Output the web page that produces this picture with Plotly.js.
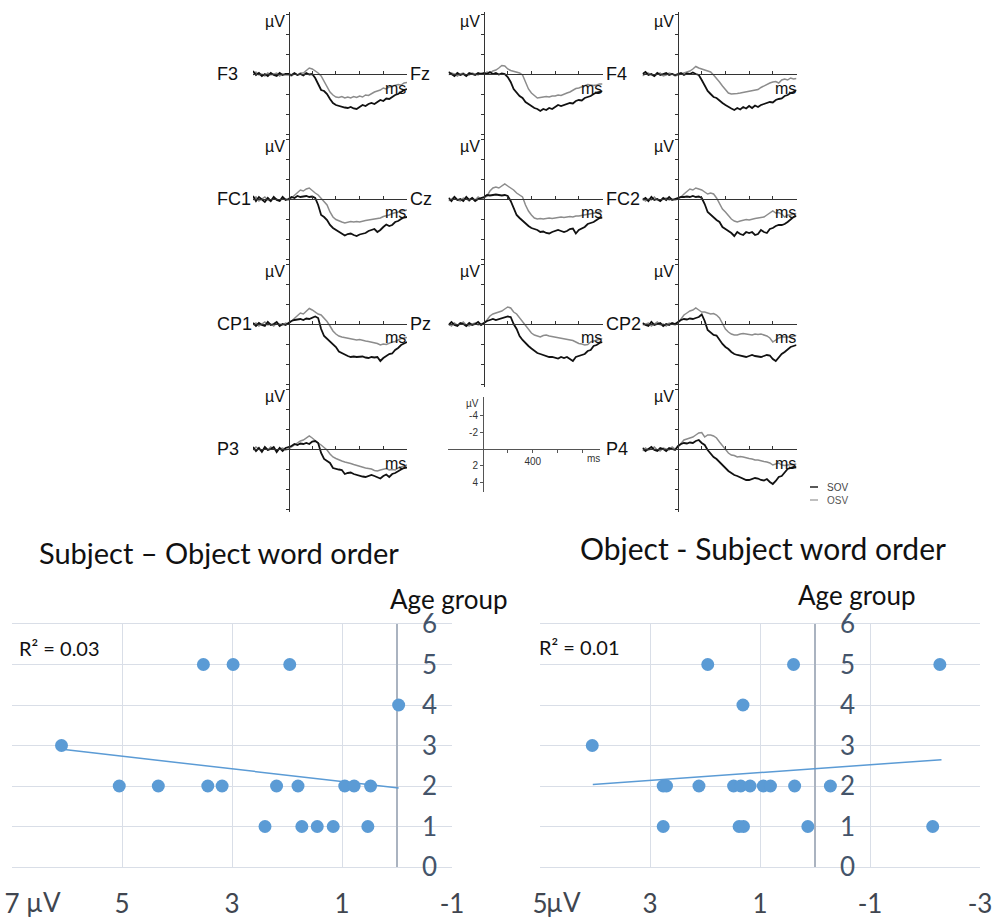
<!DOCTYPE html>
<html>
<head>
<meta charset="utf-8">
<script src="https://cdn.plot.ly/plotly-3.0.1.min.js"></script>
<style>html,body{margin:0;padding:0;background:#fff;}#chart{width:992px;height:919px;}</style>
</head>
<body>
<div id="chart"></div>
<script>
// ---------- ERP data (µV, positive plotted downward) ----------
const times = [-300,-275,-250,-225,-200,-175,-150,-125,-100,-75,-50,-25,0,25,50,75,100,125,150,175,200,225,250,275,300,325,350,375,400,425,450,475,500,525,550,575,600,625,650,675,700,725,750,775,800,825,850,875,900,925,950,975,1000];

const electrodes = ['F3','Fz','F4','FC1','Cz','FC2','CP1','Pz','CP2','P3','P4'];

const f3_sov = [-0.3,0.1,-0.1,0.2,0.0,0.2,-0.1,0.1,0.2,-0.1,0.1,0.0, 0.0,0.1,-0.1,0.1,0.0,0.15,-0.1,0.05,0.0, 0.4,1.0,1.6,1.7,2.0,2.5,2.9,3.1,3.2,3.25,3.35,3.4,3.3,3.45,3.5,3.3,3.1,3.2,3.0,2.9,3.0,2.8,2.6,2.7,2.45,2.5,2.3,2.1,2.0,1.8,1.6,1.5];
const f3_osv = [0.1,-0.2,0.1,0.0,0.2,-0.1,0.1,0.0,-0.1,0.2,0.0,0.1, 0.1,0.2,0.0,0.1,-0.1,-0.1,-0.4,-0.6,-0.5, -0.3,-0.1,0.2,0.7,1.2,1.8,2.1,2.3,2.35,2.25,2.4,2.3,2.4,2.25,2.35,2.2,2.3,2.1,2.15,1.95,1.8,1.7,1.6,1.4,1.5,1.3,1.2,1.1,1.05,1.1,0.9,0.85];
const fz_sov = [-0.2,0.0,0.2,-0.1,0.1,0.0,0.2,-0.1,0.0,0.1,-0.1,0.0, -0.1,0.0,-0.2,0.0,-0.1,0.05,-0.05,0.0,0.3, 0.8,1.5,1.9,2.2,2.4,2.8,3.0,3.2,3.4,3.5,3.7,3.5,3.6,3.4,3.5,3.3,3.1,3.2,3.1,3.0,2.9,2.95,2.7,2.6,2.65,2.4,2.3,2.2,2.0,1.85,1.8,1.7];
const fz_osv = [0.1,-0.1,0.0,0.2,0.0,-0.1,0.1,0.1,-0.1,0.0,0.1,-0.1, 0.0,-0.2,-0.1,-0.3,-0.4,-0.6,-0.85,-0.8,-0.5, -0.35,-0.25,-0.2,-0.1,0.1,0.9,1.5,1.9,2.2,2.4,2.35,2.3,2.25,2.3,2.2,2.2,2.1,2.15,2.0,1.9,1.8,1.6,1.45,1.4,1.3,1.2,1.05,1.1,1.15,1.1,1.0,1.0];
const f4_sov = [0.0,-0.2,0.1,0.0,0.2,-0.1,0.1,0.0,-0.1,0.1,0.0,0.1, 0.0,-0.1,0.1,-0.05,0.0,-0.15,0.0,0.1,0.6, 1.1,1.7,2.0,2.3,2.4,2.7,2.9,3.1,3.3,3.45,3.6,3.4,3.55,3.3,3.45,3.2,3.4,3.15,3.3,3.1,3.0,2.9,2.8,2.85,2.6,2.5,2.45,2.2,2.1,1.9,1.8,1.6];
const f4_osv = [0.2,0.0,-0.1,0.1,0.2,0.0,-0.1,0.2,0.1,-0.1,0.0,0.2, 0.1,0.0,-0.1,-0.2,-0.3,-0.5,-0.75,-0.6,-0.5, -0.4,-0.35,-0.2,0.1,0.4,0.8,1.2,1.5,1.9,2.0,2.0,1.95,1.9,1.85,1.8,1.75,1.7,1.6,1.55,1.35,1.2,1.0,0.9,0.8,0.75,0.9,0.6,0.5,0.6,0.4,0.5,0.45];
const fc1_sov = [-0.3,0.2,-0.2,0.1,0.3,-0.1,0.2,-0.2,0.1,0.2,-0.2,0.1, 0.0,-0.2,-0.1,-0.3,-0.2,-0.25,-0.3,-0.2,-0.25, -0.1,0.6,1.6,1.8,2.1,2.6,2.9,3.1,3.3,3.5,3.65,3.5,3.45,3.6,3.7,3.55,3.5,3.4,3.2,3.1,3.0,3.3,3.1,2.8,2.55,2.7,2.6,2.3,2.2,2.0,1.85,1.8];
const fc1_osv = [0.1,-0.2,0.2,0.0,-0.2,0.1,0.2,-0.1,0.0,0.2,-0.1,0.0, 0.1,-0.1,-0.4,-0.7,-0.9,-0.8,-1.0,-1.1,-0.8, -0.6,-0.4,-0.05,0.3,0.6,1.3,1.8,2.05,2.2,2.3,2.4,2.3,2.25,2.3,2.25,2.3,2.2,2.15,2.1,2.05,2.0,1.95,1.9,1.75,1.7,1.6,1.45,1.4,1.3,1.2,1.15,1.1];
const cz_sov = [-0.1,0.2,-0.2,0.1,0.0,0.2,-0.2,0.1,-0.1,0.2,0.0,-0.1, -0.2,-0.4,-0.35,-0.4,-0.45,-0.4,-0.35,-0.4,-0.3, 0.2,0.9,1.6,1.9,2.2,2.4,2.7,2.9,3.0,3.1,3.3,3.25,3.4,3.45,3.3,3.2,3.1,3.2,3.3,3.2,3.0,2.95,3.45,3.1,2.95,2.8,2.5,2.4,2.3,2.1,1.9,1.85];
const cz_osv = [0.2,0.0,-0.2,0.1,0.2,-0.1,0.0,0.2,-0.1,0.1,-0.2,0.0, -0.1,-0.3,-0.8,-1.1,-1.2,-1.1,-1.3,-1.5,-1.3, -1.1,-0.9,-0.6,-0.4,-0.2,0.6,1.2,1.6,1.9,2.0,1.95,2.0,1.95,1.9,1.95,1.9,1.85,1.8,1.85,1.8,1.75,1.8,1.7,1.7,1.65,1.6,1.55,1.5,1.45,1.4,1.3,1.25];
const fc2_sov = [0.1,-0.1,0.2,-0.2,0.1,0.0,0.2,-0.1,0.1,-0.2,0.1,0.0, -0.1,-0.2,-0.2,-0.25,-0.2,-0.3,-0.2,-0.25,-0.1, 0.5,1.3,1.6,1.8,2.1,2.3,2.8,3.0,3.2,3.4,3.7,3.3,3.5,3.6,3.3,3.4,3.3,3.6,3.5,3.1,3.3,3.4,3.0,2.9,2.7,2.6,2.6,2.5,2.3,2.0,1.8,1.7];
const fc2_osv = [-0.1,0.2,0.0,0.1,-0.2,0.1,0.2,0.0,-0.1,0.1,0.0,0.1, 0.0,-0.2,-0.5,-0.8,-1.0,-0.9,-1.1,-1.0,-0.9, -0.7,-0.5,-0.6,-0.5,-0.1,0.4,1.0,1.3,1.7,2.0,2.2,2.3,2.2,2.1,2.05,2.1,2.0,1.95,1.9,1.85,1.8,1.6,1.4,1.2,1.4,1.35,1.5,1.8,1.6,1.6,1.5,1.45];
const cp1_sov = [-0.1,0.2,-0.1,0.1,0.2,-0.2,0.1,0.0,-0.2,0.2,0.0,0.1, -0.1,-0.3,-0.4,-0.45,-0.5,-0.4,-0.55,-0.5,-0.6, -0.75,-0.6,0.5,1.2,1.5,1.7,2.0,2.3,2.75,2.9,3.1,3.2,3.3,3.25,3.3,3.3,3.25,3.35,3.4,3.3,3.35,3.3,3.7,3.4,3.2,3.0,2.95,2.6,2.4,2.1,1.95,1.8];
const cp1_osv = [0.1,-0.1,0.2,0.0,-0.2,0.1,0.0,0.2,-0.1,0.0,0.1,-0.1, 0.0,-0.3,-0.6,-0.9,-1.1,-1.0,-1.3,-1.55,-1.4, -1.2,-1.0,-0.9,-0.6,-0.25,0.2,0.7,1.0,1.2,1.3,1.35,1.4,1.45,1.5,1.6,1.55,1.65,1.7,1.75,1.8,1.85,1.95,2.1,2.0,2.05,1.9,1.8,1.75,1.6,1.45,1.4,1.35];
const pz_sov = [0.1,-0.2,0.1,0.2,-0.1,0.0,0.2,-0.1,0.1,0.0,-0.2,0.1, -0.1,-0.3,-0.4,-0.5,-0.4,-0.5,-0.55,-0.7,-0.75, -0.7,0.0,0.5,1.2,1.6,1.95,2.2,2.45,2.7,2.9,3.0,3.1,3.2,3.3,3.3,3.4,3.45,3.3,3.4,3.3,3.5,3.7,3.3,3.2,3.1,3.0,2.7,2.6,2.2,2.1,1.9,1.8];
const pz_osv = [0.0,0.2,-0.1,0.1,0.0,-0.2,0.1,0.2,0.0,-0.1,0.1,0.0, -0.1,-0.4,-0.8,-1.0,-1.1,-1.2,-1.3,-1.5,-1.7, -1.6,-1.2,-1.0,-0.6,-0.3,0.2,0.5,0.9,1.1,1.2,1.3,1.15,1.1,1.2,1.25,1.3,1.35,1.4,1.45,1.55,1.6,1.65,1.8,1.95,2.0,2.1,2.05,1.8,1.7,1.6,1.5,1.45];
const cp2_sov = [-0.1,0.1,0.2,-0.2,0.1,0.0,-0.1,0.2,0.0,0.1,-0.1,0.0, -0.2,-0.4,-0.5,-0.45,-0.55,-0.5,-0.6,-0.7,-0.95, -0.3,0.6,0.9,1.1,1.15,1.6,2.0,2.3,2.5,2.8,3.0,3.1,3.15,3.2,3.3,3.2,3.1,3.2,3.25,3.3,3.2,3.1,3.15,3.5,3.7,3.3,3.0,2.8,2.5,2.3,2.2,2.1];
const cp2_osv = [0.1,0.0,-0.1,0.2,0.0,-0.2,0.1,0.0,0.2,-0.1,0.0,0.1, -0.1,-0.5,-0.9,-1.1,-1.3,-1.4,-1.6,-1.4,-1.2, -1.2,-1.1,-1.0,-1.05,-0.9,-0.6,-0.1,0.5,0.8,1.0,1.1,1.1,1.0,0.95,1.0,1.05,1.1,1.0,1.05,1.0,1.1,1.2,1.4,1.8,1.6,1.4,1.3,1.3,1.25,1.3,1.2,1.15];
const p3_sov = [-0.2,0.2,-0.1,0.3,-0.2,0.1,0.0,-0.2,0.3,-0.1,0.2,-0.1, -0.2,-0.3,-0.5,-0.4,-0.55,-0.5,-0.6,-0.5,-0.75, -0.8,-0.6,0.4,1.0,1.2,1.4,1.9,2.0,2.05,2.1,2.5,2.4,2.35,2.5,2.6,2.7,2.75,2.8,2.7,2.6,2.7,2.85,2.95,2.7,2.55,2.8,2.5,2.4,2.2,2.05,1.9,1.85];
const p3_osv = [0.1,-0.2,0.0,0.2,-0.1,0.1,-0.2,0.0,0.1,0.0,-0.1,0.1, 0.0,-0.2,-0.4,-0.6,-0.8,-0.9,-1.1,-1.3,-1.1, -0.8,-0.6,-0.4,-0.15,0.1,0.5,0.8,0.95,1.1,1.2,1.3,1.35,1.45,1.55,1.65,1.75,1.8,1.9,1.95,2.0,2.15,2.2,2.1,2.0,1.95,2.1,2.05,2.1,1.9,1.8,1.7,1.6];
const p4_sov = [-0.1,0.2,0.0,-0.2,0.1,0.2,-0.1,0.0,0.2,-0.1,0.0,0.1, -0.3,-0.5,-0.6,-0.55,-0.65,-0.6,-0.8,-0.9,-0.6, -0.4,0.1,0.5,0.8,1.0,1.3,1.7,2.0,2.2,2.4,2.6,2.7,2.85,2.95,3.1,3.1,3.0,2.9,2.95,3.1,3.15,3.0,3.3,3.5,3.2,2.8,2.7,2.3,2.0,1.9,1.8,1.85];
const p4_osv = [0.2,-0.1,0.1,0.0,-0.2,0.1,0.2,-0.1,0.0,0.1,-0.2,0.0, -0.2,-0.6,-0.9,-1.0,-1.1,-1.2,-1.4,-1.6,-1.65, -1.2,-1.4,-1.4,-1.3,-1.1,-0.7,-0.3,0.1,0.4,0.6,0.65,0.8,0.75,0.8,0.9,0.95,1.0,1.1,1.1,1.2,1.25,1.3,1.4,1.6,1.5,1.4,1.6,1.65,1.6,1.6,1.55,1.5];

const sovSeries = [f3_sov,fz_sov,f4_sov,fc1_sov,cz_sov,fc2_sov,cp1_sov,pz_sov,cp2_sov,p3_sov,p4_sov];
const osvSeries = [f3_osv,fz_osv,f4_osv,fc1_osv,cz_osv,fc2_osv,cp1_osv,pz_osv,cp2_osv,p3_osv,p4_osv];

// scale legend panel
const scaleTicks = [-4,-2,2,4];
const scaleTimeTicks = [200,400,600,800];
const scaleTimeLabels = ['','400','',''];

// ---------- Scatter data ----------
const sovAmp = [3.52,2.98,1.95,-0.03,6.1,5.05,4.34,3.44,3.18,2.19,1.8,0.95,0.78,0.48,2.4,1.73,1.45,1.16,0.53];
const sovAge = [5,5,5,4,3,2,2,2,2,2,2,2,2,2,1,1,1,1,1];
const sovTrendX = [6.05,-0.03];
const sovTrendY = [2.9,1.95];

const osvAmp = [1.95,0.39,-2.27,1.31,4.05,2.76,2.70,2.11,1.48,1.35,1.18,0.94,0.81,0.37,-0.28,2.76,1.38,1.30,0.13,-2.14];
const osvAge = [5,5,5,4,3,2,2,2,2,2,2,2,2,2,2,1,1,1,1,1];
const osvTrendX = [4.04,-2.3];
const osvTrendY = [2.04,2.65];

const ageTicks = [0,1,2,3,4,5,6];
const leftAmpTicks = [7,5,3,1,-1];
const leftAmpLabels = ['7','5','3','1','-1'];
const rightAmpTicks = [5,3,1,-1,-3];
const rightAmpLabels = ['5','3','1','-1','-3'];

// ---------- Layout helpers ----------
const W = 992, H = 919;
const px = v => v / W;
const py = v => 1 - v / H;
const ERPFONT = 'Liberation Sans, Arial, sans-serif';
const XLFONT = 'Lato, Open Sans, sans-serif';

const slots = [[0,0],[0,1],[0,2],[1,0],[1,1],[1,2],[2,0],[2,1],[2,2],[3,0],[3,2]];
const colLeft = [253, 448.5, 642.5];
const panelW = 154;
const rowBase = [74, 199, 324, 449];
const labelX = [215, 408, 604];

const traces = [];
const layout = {
  width: W, height: H,
  margin: {l:0, r:0, t:0, b:0},
  paper_bgcolor: '#fff', plot_bgcolor: 'rgba(0,0,0,0)',
  showlegend: false,
  annotations: [], shapes: []
};

function axName(n){ return n === 1 ? '' : String(n); }

electrodes.forEach((name, k) => {
  const n = k + 1;
  const [r, c] = slots[k];
  const L = colLeft[c], base = rowBase[r];
  const zeroX = L + 300 / 1300 * panelW;
  layout['xaxis' + axName(n)] = {
    domain: [px(L), px(L + panelW)], range: [-300, 1000], anchor: 'free', position: py(base),
    showline: true, linecolor: '#333', linewidth: 1.3, ticks: 'inside', ticklen: 3, tickcolor: '#333',
    tickvals: [200,400,600,800], showticklabels: false, showgrid: false, zeroline: false, fixedrange: true
  };
  layout['yaxis' + axName(n)] = {
    domain: [py(base + 63), py(base - 62)], range: [6.3, -6.2], anchor: 'free', position: px(zeroX),
    showline: true, linecolor: '#333', linewidth: 1.3, ticks: 'outside', ticklen: 3, tickcolor: '#333',
    tickvals: [-6,-4,-2,2,4,6], showticklabels: false, showgrid: false, zeroline: false, fixedrange: true
  };
  traces.push({x: times, y: osvSeries[k], xaxis: 'x' + axName(n), yaxis: 'y' + axName(n), mode: 'lines',
    line: {color: '#8c8c8c', width: 1.5}, hoverinfo: 'skip'});
  traces.push({x: times, y: sovSeries[k], xaxis: 'x' + axName(n), yaxis: 'y' + axName(n), mode: 'lines',
    line: {color: '#111', width: 1.8}, hoverinfo: 'skip'});
  layout.annotations.push({xref:'paper', yref:'paper', x: px(labelX[c]), y: py(base), xanchor:'left', yanchor:'middle',
    text: name, showarrow:false, font:{family: ERPFONT, size: 18, color:'#111'}});
  layout.annotations.push({xref:'paper', yref:'paper', x: px(zeroX - 2), y: py(base - 53), xanchor:'right', yanchor:'middle',
    text: 'µV', showarrow:false, font:{family: ERPFONT, size: 16, color:'#111'}});
  layout.annotations.push({xref:'paper', yref:'paper', x: px(L + panelW + 1), y: py(base + 14), xanchor:'right', yanchor:'middle',
    text: 'ms', showarrow:false, font:{family: ERPFONT, size: 16, color:'#111'}});
});

// scale (legend) panel
layout.xaxis12 = {
  domain: [px(448), px(600)], range: [-280, 940], anchor: 'free', position: py(449),
  showline: true, linecolor: '#555', linewidth: 1, ticks: 'outside', ticklen: 3, tickcolor: '#555',
  tickvals: scaleTimeTicks, ticktext: scaleTimeLabels, tickfont: {family: ERPFONT, size: 10, color:'#333'},
  showgrid: false, zeroline: false, fixedrange: true
};
layout.yaxis12 = {
  domain: [py(492), py(397)], range: [5.15, -6.23], anchor: 'free', position: px(483),
  showline: true, linecolor: '#555', linewidth: 1, ticks: 'outside', ticklen: 3, tickcolor: '#555',
  tickvals: scaleTicks, ticktext: scaleTicks.map(String), tickfont: {family: ERPFONT, size: 10, color:'#333'},
  showgrid: false, zeroline: false, fixedrange: true
};
traces.push({x: [], y: [], xaxis: 'x12', yaxis: 'y12', mode: 'lines', hoverinfo: 'skip'});
layout.annotations.push({xref:'paper', yref:'paper', x: px(481), y: py(403), xanchor:'right', yanchor:'middle',
  text:'µV', showarrow:false, font:{family: ERPFONT, size: 10, color:'#333'}});
layout.annotations.push({xref:'paper', yref:'paper', x: px(593), y: py(458), xanchor:'center', yanchor:'middle',
  text:'ms', showarrow:false, font:{family: ERPFONT, size: 10, color:'#333'}});

// condition legend
layout.shapes.push({type:'line', xref:'paper', yref:'paper', x0: px(810), x1: px(818), y0: py(487), y1: py(487), line:{color:'#222', width:1.5}});
layout.shapes.push({type:'line', xref:'paper', yref:'paper', x0: px(810), x1: px(818), y0: py(500), y1: py(500), line:{color:'#aaa', width:1.5}});
layout.annotations.push({xref:'paper', yref:'paper', x: px(825), y: py(487), xanchor:'left', yanchor:'middle',
  text:'SOV', showarrow:false, font:{family: ERPFONT, size: 10, color:'#444'}});
layout.annotations.push({xref:'paper', yref:'paper', x: px(825), y: py(500), xanchor:'left', yanchor:'middle',
  text:'OSV', showarrow:false, font:{family: ERPFONT, size: 10, color:'#555'}});

// ---------- Scatter panels ----------
const GRID = '#d9dee7';
function scatterAxes(n, left, right, xr, zeroPx, tv, tt) {
  layout['xaxis' + n] = {
    domain: [px(left), px(right)], range: xr, anchor: 'y' + n,
    tickvals: tv, ticktext: tt, showgrid: true, gridcolor: GRID, gridwidth: 1,
    zeroline: true, zerolinecolor: '#aab3c0', zerolinewidth: 1.2,
    showline: true, linecolor: GRID, mirror: true, ticks: '', ticklabeloverflow: 'allow',
    tickfont: {family: XLFONT, size: 26, color: '#404650'}, ticklabelstandoff: 14, fixedrange: true
  };
  layout['yaxis' + n] = {
    domain: [py(867), py(624)], range: [0, 6], anchor: 'free', position: px(zeroPx), side: 'right',
    tickvals: ageTicks, showgrid: true, gridcolor: GRID, gridwidth: 1, zeroline: false, showline: false, ticks: '',
    ticklabeloverflow: 'allow',
    tickfont: {family: XLFONT, size: 26, color: '#44546a'}, ticklabelstandoff: 24, fixedrange: true
  };
}
scatterAxes(13, 12, 452, [7, -1], 397, leftAmpTicks, leftAmpLabels);
scatterAxes(14, 540, 980, [5, -3], 815, rightAmpTicks, rightAmpLabels);

traces.push({x: sovTrendX, y: sovTrendY, xaxis: 'x13', yaxis: 'y13', mode: 'lines', line: {color:'#5b9bd5', width: 1.5}, hoverinfo:'skip'});
traces.push({x: sovAmp, y: sovAge, xaxis: 'x13', yaxis: 'y13', mode: 'markers', marker: {size: 13, color: '#5b9bd5'}, hoverinfo:'skip'});
traces.push({x: osvTrendX, y: osvTrendY, xaxis: 'x14', yaxis: 'y14', mode: 'lines', line: {color:'#5b9bd5', width: 1.5}, hoverinfo:'skip'});
traces.push({x: osvAmp, y: osvAge, xaxis: 'x14', yaxis: 'y14', mode: 'markers', marker: {size: 13, color: '#5b9bd5'}, hoverinfo:'skip'});

const txt = (x, y, text, size, anchor, color) => layout.annotations.push({xref:'paper', yref:'paper', x: px(x), y: py(y),
  xanchor: anchor || 'center', yanchor:'middle', text, showarrow:false, font:{family: XLFONT, size, color: color || '#111'}});
txt(219, 552, 'Subject – Object word order', 29);
txt(763, 548, 'Object - Subject word order', 30);
txt(449, 599, 'Age group', 26);
txt(857, 595, 'Age group', 26);
txt(17, 648, 'R² = 0.03', 20, 'left');
txt(537, 647, 'R² = 0.01', 20, 'left');
txt(43, 902, 'µV', 26, 'center', '#404650');
txt(563, 902, 'µV', 26, 'center', '#404650');

Plotly.newPlot('chart', traces, layout, {displayModeBar: false, staticPlot: true});
</script>
</body>
</html>
